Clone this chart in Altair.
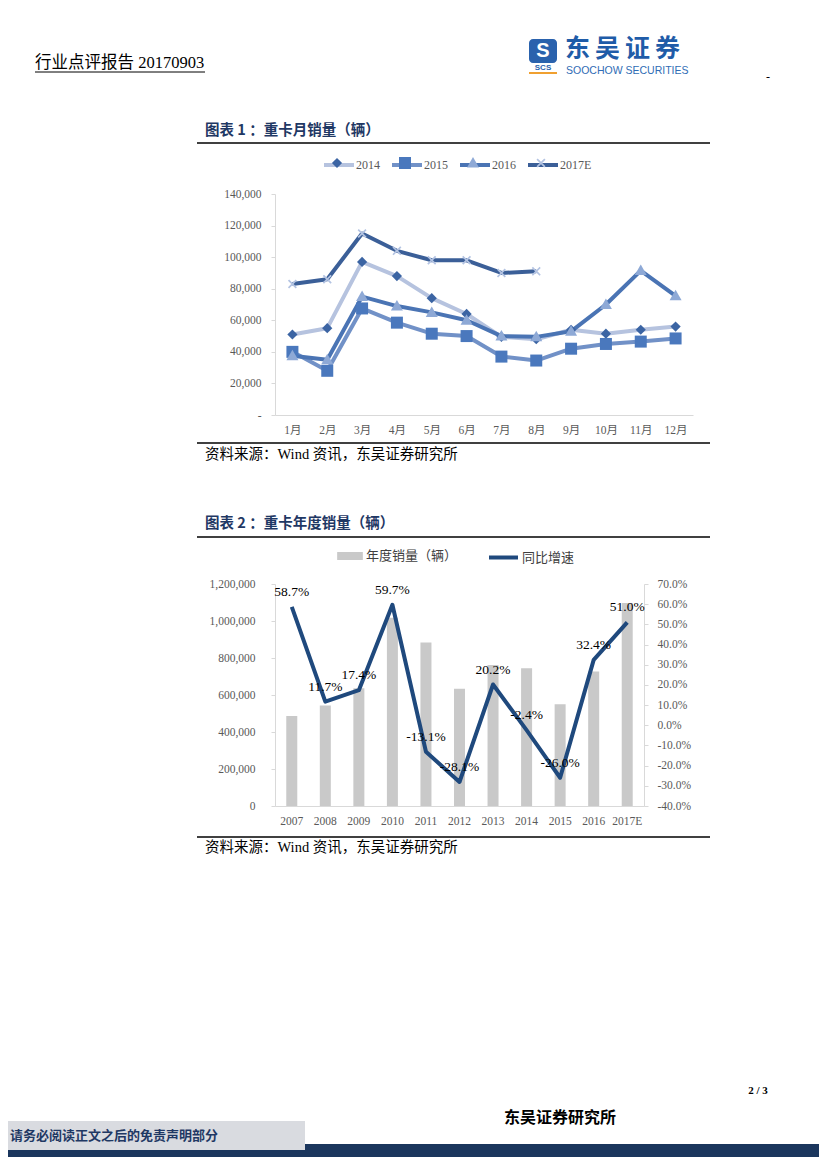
import altair as alt
import pandas as pd

# ---------------- data ----------------
months = ["1月", "2月", "3月", "4月", "5月", "6月", "7月", "8月", "9月", "10月", "11月", "12月"]
series_names = ["2014", "2015", "2016", "2017E"]
sales_2014 = [51000, 55000, 97000, 88000, 74000, 64000, 49500, 48000, 54000, 51500, 54000, 56000]
sales_2015 = [40000, 28000, 67500, 58500, 51500, 50000, 37000, 34500, 42000, 45000, 46500, 48500]
sales_2016 = [37500, 35000, 75000, 69000, 65000, 60000, 50000, 49500, 53000, 70000, 91500, 75500]
sales_2017E = [83000, 86000, 115000, 104000, 98000, 98000, 90000, 91000, None, None, None, None]
monthly_ticks = [0, 20000, 40000, 60000, 80000, 100000, 120000, 140000]

years = ["2007", "2008", "2009", "2010", "2011", "2012", "2013", "2014", "2015", "2016", "2017E"]
annual_sales = [486000, 543000, 637000, 1017000, 884000, 634000, 762000, 744000, 550000, 727000, 1097000]
yoy_growth = [58.7, 11.7, 17.4, 59.7, -13.1, -28.1, 20.2, -2.4, -26.0, 32.4, 51.0]
annual_ticks = [0, 200000, 400000, 600000, 800000, 1000000, 1200000]
growth_ticks = [-40, -30, -20, -10, 0, 10, 20, 30, 40, 50, 60, 70]

bar_name = "年度销量（辆）"
line_name = "同比增速"
header_text = "行业点评报告 20170903"
title1 = "图表 1 ：重卡月销量（辆）"
title2 = "图表 2 ：重卡年度销量（辆）"
source_text = "资料来源：Wind 资讯，东吴证券研究所"
footer_left = "请务必阅读正文之后的免责声明部分"
footer_mid = "东吴证券研究所"
page_no = "2 / 3"
logo_cn = "东\u2009吴\u2009证\u2009券"
logo_en = "SOOCHOW SECURITIES"

# ---------------- styles ----------------
SERIF = "Liberation Serif"
SERIF_CJK = "Liberation Serif, Noto Sans CJK SC"
CJK = "Noto Sans CJK SC"
GRAY_TXT = "#595959"
AXIS_GRAY = "#d9d9d9"
NAVY_T = "#1f3864"
line_colors = ["#b6c3df", "#7191c7", "#4a74b4", "#3b5f98"]
marker_colors = ["#3b64a3", "#4a78bd", "#8ea9d6", "#b3c3e2"]
marker_shapes = [
    "M0,-0.34L0.34,0L0,0.34L-0.34,0Z",
    "M-0.4,-0.4H0.4V0.4H-0.4Z",
    "M0,-0.4L0.4,0.3H-0.4Z",
    "M-0.3,-0.22L-0.22,-0.3L0,-0.08L0.22,-0.3L0.3,-0.22L0.08,0L0.3,0.22L0.22,0.3L0,0.08L-0.22,0.3L-0.3,0.22L-0.08,0Z",
]

OX, OY1, OY2 = 275, 194, 584  # page positions of the plot origins
W1, H1 = 418, 221
W2, H2 = 369, 222

one = pd.DataFrame({"k": [0]})


def txt(text, x, y, size, oy, font=CJK, weight="normal", color="#000000", align="left"):
    return alt.Chart(one).mark_text(
        text=text, align=align, baseline="middle", font=font, fontSize=size,
        fontWeight=weight, color=color,
    ).encode(x=alt.value(x - OX), y=alt.value(y - oy))


def hrule(x1, x2, y, oy, color="#000000", width=1.5):
    return alt.Chart(one).mark_rule(color=color, strokeWidth=width).encode(
        x=alt.value(x1 - OX), x2=alt.value(x2 - OX), y=alt.value(y - oy))


def box(x1, x2, y1, y2, oy, color, radius=0):
    return alt.Chart(one).mark_rect(color=color, cornerRadius=radius).encode(
        x=alt.value(x1 - OX), x2=alt.value(x2 - OX),
        y=alt.value(y1 - oy), y2=alt.value(y2 - oy))


# ---------------- chart 1 ----------------
rows = []
for name, vals in zip(series_names, [sales_2014, sales_2015, sales_2016, sales_2017E]):
    for m, v in zip(months, vals):
        if v is not None:
            rows.append({"month": m, "series": name, "sales": v})
df1 = pd.DataFrame(rows)

x1 = alt.X("month:N", sort=months, scale=alt.Scale(type="point", padding=0.5),
           axis=alt.Axis(title=None, labelAngle=0, ticks=False, domainColor=AXIS_GRAY,
                         labelFont=SERIF_CJK, labelFontSize=11.5, labelColor=GRAY_TXT,
                         labelPadding=9, zindex=1))
y1 = alt.Y("sales:Q", scale=alt.Scale(domain=[0, 140000], nice=False),
           axis=alt.Axis(title=None, values=monthly_ticks, grid=False,
                         labelExpr="datum.value == 0 ? '-\u2007' : format(datum.value, ',')",
                         domainColor=AXIS_GRAY, tickColor=AXIS_GRAY, tickSize=4,
                         labelPadding=10, labelFont=SERIF, labelFontSize=11.5,
                         labelColor=GRAY_TXT, zindex=1))

leg_common = dict(orient="none", legendY=163 - OY1 - 15,
                  direction="horizontal", title=None, symbolSize=900,
                  labelFont=SERIF, labelFontSize=12, labelColor=GRAY_TXT, padding=0)
legA = alt.Legend(symbolType="stroke", symbolStrokeWidth=4, legendX=322 - OX,
                  labelOffset=0, columnPadding=4, **leg_common)
legB = alt.Legend(symbolStrokeWidth=0, labelOpacity=0, legendX=322 - OX,
                  labelOffset=2, columnPadding=12, **leg_common)

lines1 = alt.Chart(df1).mark_line(strokeWidth=4, strokeJoin="round").encode(
    x=x1, y=y1,
    stroke=alt.Stroke("series:N", scale=alt.Scale(domain=series_names, range=line_colors),
                      legend=legA),
)
points1 = alt.Chart(df1).mark_point(filled=True, size=900, opacity=1, strokeWidth=0).encode(
    x=x1, y=y1,
    fill=alt.Fill("series:N", scale=alt.Scale(domain=series_names, range=marker_colors),
                  legend=legB),
    shape=alt.Shape("series:N", scale=alt.Scale(domain=series_names, range=marker_shapes),
                    legend=legB),
)

deco1 = [
    box(8, 819, 8, 1157, OY1, "#ffffff"),
    txt(header_text, 35, 63, 16.5, OY1, font=SERIF_CJK),
    hrule(35, 205, 72, OY1, width=1),
    box(529, 557, 39, 63, OY1, "#2a62ad", radius=4),
    txt("S", 543, 51, 20, OY1, font="Liberation Sans", weight="bold", color="#ffffff", align="center"),
    txt("SCS", 543, 68, 8, OY1, font="Liberation Sans", weight="bold", color="#2a62ad", align="center"),
    hrule(529, 557, 73, OY1, color="#f0a030", width=2),
    txt(logo_cn, 565, 49, 25, OY1, weight="bold", color="#1f5ca8"),
    txt(logo_en, 566, 71, 10.5, OY1, font="Liberation Sans", color="#2f6cb5"),
    txt("-", 766, 77, 12, OY1, font=SERIF),
    txt(title1, 205, 131, 14.5, OY1, weight="bold", color=NAVY_T),
    hrule(197, 710, 143, OY1),
    hrule(197, 710, 443, OY1),
    txt(source_text, 205, 455, 14.5, OY1, font=SERIF_CJK),
]

chart1 = alt.layer(*deco1, lines1, points1).resolve_legend(
    stroke="independent", fill="independent", shape="independent"
).properties(width=W1, height=H1)

# ---------------- chart 2 ----------------
df2 = pd.DataFrame({
    "year": years, "sales": annual_sales, "growth": yoy_growth,
    "label": [f"{g:.1f}%" for g in yoy_growth],
    "bar_series": bar_name, "line_series": line_name,
})

x2 = alt.X("year:N", sort=years, scale=alt.Scale(paddingInner=0, paddingOuter=0),
           axis=alt.Axis(title=None, labelAngle=0, ticks=False, domainColor=AXIS_GRAY,
                         labelFont=SERIF, labelFontSize=11.5, labelColor=GRAY_TXT,
                         labelPadding=9))
y_left = alt.Y("sales:Q", scale=alt.Scale(domain=[0, 1200000], nice=False),
               axis=alt.Axis(orient="left", title=None, values=annual_ticks,
                             labelExpr="format(datum.value, ',')",
                             grid=False, domainColor=AXIS_GRAY, tickColor=AXIS_GRAY,
                             tickSize=4, labelPadding=16, labelFont=SERIF,
                             labelFontSize=11.5, labelColor=GRAY_TXT))
y_right = alt.Y("growth:Q", scale=alt.Scale(domain=[-40, 70], nice=False),
                axis=alt.Axis(orient="right", title=None, values=growth_ticks, grid=False,
                              labelExpr="(datum.value < 0 ? '-' : '') + format(abs(datum.value), '.1f') + '%'",
                              domainColor=AXIS_GRAY, tickColor=AXIS_GRAY, tickSize=4,
                              labelPadding=9, labelFont=SERIF, labelFontSize=11.5,
                              labelColor=GRAY_TXT))

leg_bar = alt.Legend(orient="none", legendX=337 - OX, legendY=556 - OY2 - 13,
                     direction="horizontal", title=None, symbolType="M-1,-0.31H1V0.31H-1Z",
                     symbolSize=660, symbolStrokeWidth=0, labelFont=CJK, labelFontSize=13,
                     labelColor="#404040", labelOffset=3, padding=0)
leg_line = alt.Legend(orient="none", legendX=487 - OX, legendY=556 - OY2 - 15,
                      direction="horizontal", title=None, symbolType="stroke",
                      symbolSize=841, symbolStrokeWidth=4, labelFont=CJK, labelFontSize=13,
                      labelColor="#404040", labelOffset=2, padding=0)

bars2 = alt.Chart(df2).mark_bar(size=11).encode(
    x=x2, y=y_left,
    fill=alt.Fill("bar_series:N", scale=alt.Scale(domain=[bar_name], range=["#c9c9c9"]),
                  legend=leg_bar),
)
line2 = alt.Chart(df2).mark_line(strokeWidth=4, strokeJoin="round").encode(
    x=x2, y=y_right,
    stroke=alt.Stroke("line_series:N", scale=alt.Scale(domain=[line_name], range=["#1f497d"]),
                      legend=leg_line),
)
labels2 = alt.Chart(df2).mark_text(dy=-15, font=SERIF, fontSize=13.5, color="#000000").encode(
    x=x2, y=y_right, text="label:N")

deco2 = [
    txt(title2, 205, 524, 14.5, OY2, weight="bold", color=NAVY_T),
    hrule(197, 710, 537, OY2),
    hrule(197, 710, 837, OY2),
    txt(source_text, 205, 848, 14.5, OY2, font=SERIF_CJK),
    txt(page_no, 758, 1091, 11, OY2, font=SERIF, weight="bold", align="center"),
    txt(footer_mid, 560, 1118, 16, OY2, weight="bold", align="center"),
    box(8, 819, 1144, 1157, OY2, "#1b365d"),
    box(8, 305, 1121, 1150, OY2, "#d9dbe0"),
    txt(footer_left, 10, 1136, 13, OY2, weight="bold", color=NAVY_T),
]

chart2 = alt.layer(*deco2, bars2, alt.layer(line2, labels2)).resolve_scale(
    y="independent"
).properties(width=W2, height=H2)

chart = alt.vconcat(chart1, chart2, spacing=OY2 - OY1 - H1, bounds="flush").resolve_scale(
    fill="independent", stroke="independent", shape="independent"
).resolve_legend(
    fill="independent", stroke="independent", shape="independent"
).properties(padding=0).configure_view(stroke=None)

chart.save("out.html", embed_options={"renderer": "svg", "actions": False})
